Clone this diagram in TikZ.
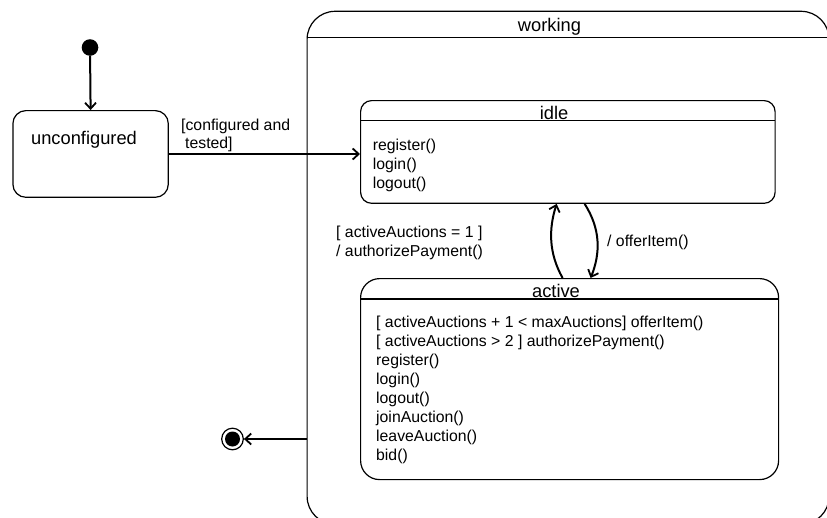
\documentclass[tikz,border=0pt]{standalone}
\usepackage{fontspec}
\setmainfont{Liberation Sans}
\usetikzlibrary{arrows.meta,calc}

\tikzset{
  statebox/.style={draw=black, line width=1.2pt, rounded corners=#1, inner sep=0pt, anchor=north west},
  statebox/.default=12pt,
  divider/.style={draw=black, line width=1.2pt},
  trans/.style={draw=black, line width=2pt, -{Straight Barb[length=6pt,width=11pt,line width=1.8pt]}},
  title/.style={font=\fontsize{18.3}{22}\selectfont, inner sep=0pt, anchor=base},
  item/.style={font=\fontsize{15.8}{19}\selectfont, inner sep=0pt, anchor=base west},
}

\begin{document}
\begin{tikzpicture}[x=1pt,y=-1pt]
\useasboundingbox[fill=white] (0,0) rectangle (827,517);

% initial pseudo state
\node[circle, fill=black, minimum size=16.6pt, inner sep=0pt] (init) at (90,47.5) {};

% unconfigured
\node[statebox=13pt, minimum width=155.4pt, minimum height=86.7pt] (unconf) at (12.3,110) {};
\node[title] (unconflabel) at (84,144) {unconfigured};

% working (composite state, running off the page)
\node[statebox=28pt, minimum width=522pt, minimum height=513pt] (working) at (306.5,10.7) {};
\draw[divider] (306.5,37.3) -- (828.5,37.3);
\node[title] (workinglabel) at (549.5,31) {working};

% idle
\node[statebox=11pt, minimum width=414.5pt, minimum height=102.7pt] (idle) at (360,100) {};
\draw[divider] (360,120.7) -- (774.5,120.7);
\node[title] (idlelabel) at (554,119) {idle};
\foreach \t [count=\i] in {register(), login(), logout()}
  \node[item] (idle-\i) at (372.7,{150.5+18.8*(\i-1)}) {\t};

% active
\node[statebox=19pt, minimum width=418pt, minimum height=201pt] (active) at (360,278) {};
\draw[divider] (360,299) -- (778,299);
\node[title] (activelabel) at (556,297) {active};
\foreach \t [count=\i] in {%
  {[ activeAuctions + 1 < maxAuctions] offerItem()},
  {[ activeAuctions > 2 ] authorizePayment()},
  register(), login(), logout(), joinAuction(), leaveAuction(), bid()}
  \node[item] (active-\i) at (376,{327.5+19.05*(\i-1)}) {\t};

% final state
\node[circle, draw=black, line width=1.2pt, minimum size=21.6pt, inner sep=0pt] (final) at (232.5,439) {};
\fill[black] (final.center) circle[radius=7.5pt];
\coordinate (workexit) at (306.5,439);

% transitions
\draw[trans] (init) -- (unconf.north);
\draw[trans] (unconf.east |- 0,154) -- (idle.west |- 0,154);
\node[item] (guard1a) at (181,130) {[configured and};
\node[item] (guard1b) at (185,148.5) {tested]};

\coordinate (upstart) at ($(active.north)+(-7,0)$);
\coordinate (upend) at ($(idle.south)+(-11.2,0)$);
\coordinate (downstart) at ($(idle.south)+(16.8,0)$);
\coordinate (downend) at ($(active.north)+(21,0)$);
\draw[trans] (upstart) .. controls +(-14,-25) and +(-8,25) .. (upend);
\draw[trans] (downstart) .. controls +(16,25) and +(10,-25) .. (downend);
\node[item] (guard2a) at (336,237.5) {[ activeAuctions = 1 ]};
\node[item] (guard2b) at (336,256.5) {/ authorizePayment()};
\node[item] (effect) at (607,246.5) {/ offerItem()};

\draw[trans] (workexit) -- (final);
\end{tikzpicture}
\end{document}
